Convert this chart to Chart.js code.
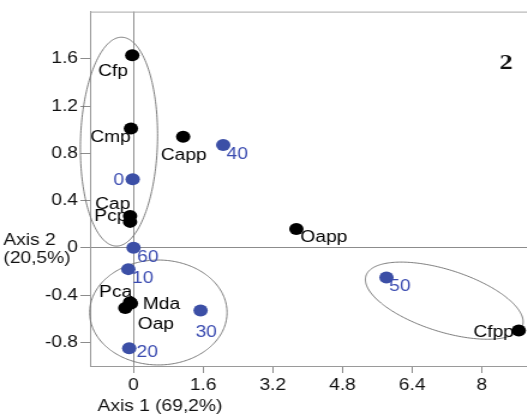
<!DOCTYPE html>
<html>
<head>
<meta charset="utf-8">
<script src="https://cdn.jsdelivr.net/npm/chart.js@4/dist/chart.umd.min.js"></script>
<style>
  html, body { margin: 0; padding: 0; background: #fff; overflow: hidden; width: 527px; height: 418px; }
  #wrap { width: 480px; height: 418px; transform: scaleX(1.2); transform-origin: 0 0; }
  canvas { display: block; }
</style>
</head>
<body>
<div id="wrap"><canvas id="chart" width="480" height="418"></canvas></div>
<script>
// Sample scores on the first two axes
const sampleNames = ['Cfp', 'Cmp', 'Capp', 'Cap', 'Pcp', 'Oapp', 'Pca', 'Mda', 'Oap', 'Cfpp'];
const sampleAxis1 = [-0.03, -0.06, 1.14, -0.08, -0.08, 3.74, -0.08, -0.06, -0.19, 8.85];
const sampleAxis2 = [1.63, 1.01, 0.94, 0.27, 0.22, 0.16, -0.46, -0.47, -0.51, -0.70];

// Time points (days)
const timeLabels = ['0', '10', '20', '30', '40', '50', '60'];
const timeAxis1 = [-0.02, -0.12, -0.10, 1.54, 2.06, 5.81, 0.00];
const timeAxis2 = [0.58, -0.18, -0.85, -0.53, 0.87, -0.25, 0.00];

// Tick values and their labels
const axis1Ticks = [0, 1.6, 3.2, 4.8, 6.4, 8];
const axis1TickLabels = ['0', '1.6', '3.2', '4.8', '6.4', '8'];
const axis2Ticks = [-0.8, -0.4, 0, 0.4, 0.8, 1.2, 1.6];
const axis2TickLabels = ['-0.8', '-0.4', '0', '0.4', '0.8', '1.2', '1.6'];

// Group ellipses: centre and two conjugate semi-axes, in axis units
const groupCentres = [[-0.335, 0.899], [0.570, -0.547], [7.138, -0.447]];
const groupAxisU = [[0.057, 0.884], [1.578, 0], [1.799, -0.210]];
const groupAxisV = [[0.885, 0], [0, 0.444], [-0.216, -0.250]];

const FONT = '"Liberation Sans", Arial, sans-serif';
const BLUE = '#3c4fa6';
const BLUE_TEXT = '#3a4bb0';

// where each point's label sits relative to the point (canvas px)
const labelOffsets = {
  Cfp: [-16, 16], Cmp: [-17, 9], Capp: [0.5, 19], Cap: [-14.5, -11], Pcp: [-16, -5],
  Oapp: [23, 8.5], Pca: [-12, -10], Mda: [25.5, 1.5], Oap: [25.5, 16], Cfpp: [-21, 2],
  '0': [-11.5, 1], '10': [12, 9], '20': [15, 4], '30': [4.7, 22.4], '40': [11.7, 9.7],
  '50': [11.2, 9], '60': [12, 10]
};

const samplePoints = sampleNames.map((n, i) => ({ x: sampleAxis1[i], y: sampleAxis2[i], name: n }));
const timePoints = timeLabels.map((n, i) => ({ x: timeAxis1[i], y: timeAxis2[i], name: n }));

const ellipsePlugin = {
  id: 'groupEllipses',
  beforeDatasetsDraw(chart) {
    const { ctx, scales: { x, y } } = chart;
    ctx.save();
    ctx.strokeStyle = '#6e6e6e';
    ctx.lineWidth = 0.9;
    groupCentres.forEach((c, k) => {
      const u = groupAxisU[k], v = groupAxisV[k];
      ctx.beginPath();
      for (let s = 0; s <= 240; s++) {
        const t = (s / 240) * Math.PI * 2;
        const dx = c[0] + u[0] * Math.cos(t) + v[0] * Math.sin(t);
        const dy = c[1] + u[1] * Math.cos(t) + v[1] * Math.sin(t);
        const px = x.getPixelForValue(dx), py = y.getPixelForValue(dy);
        if (s === 0) ctx.moveTo(px, py); else ctx.lineTo(px, py);
      }
      ctx.closePath();
      ctx.stroke();
    });
    ctx.restore();
  }
};

const textPlugin = {
  id: 'pointText',
  afterDatasetsDraw(chart) {
    const { ctx, chartArea } = chart;
    ctx.save();
    // top frame line
    ctx.strokeStyle = '#a8a8a8';
    ctx.lineWidth = 1;
    ctx.beginPath();
    ctx.moveTo(chartArea.left, chartArea.top + 0.5);
    ctx.lineTo(chartArea.right + 20, chartArea.top + 0.5);
    ctx.stroke();

    ctx.font = '16px ' + FONT;
    ctx.textAlign = 'center';
    ctx.textBaseline = 'middle';
    chart.data.datasets.forEach((ds, di) => {
      const meta = chart.getDatasetMeta(di);
      ctx.fillStyle = di === 0 ? '#000' : BLUE_TEXT;
      meta.data.forEach((el, i) => {
        const name = ds.data[i].name;
        const off = labelOffsets[name] || [0, 0];
        ctx.fillText(name, el.x + off[0], el.y + off[1]);
      });
    });

    // axis titles
    ctx.fillStyle = '#111';
    ctx.fillText('Axis 1 (69,2%)', 133.3, 406.5);
    ctx.textAlign = 'left';
    ctx.fillText('Axis 2', 2.8, 240.5);
    ctx.fillText('(20,5%)', 2.8, 258.5);

    // panel number
    ctx.font = 'bold 22px "Liberation Serif", "Times New Roman", serif';
    ctx.textAlign = 'center';
    ctx.fillStyle = '#111';
    ctx.fillText('2', 421.7, 63);
    ctx.restore();
  }
};

const zeroLine = (ctx) => (ctx.tick && ctx.tick.value === 0 ? '#8c8c8c' : 'rgba(0,0,0,0)');

new Chart(document.getElementById('chart'), {
  type: 'scatter',
  data: {
    datasets: [
      { label: 'samples', data: samplePoints, backgroundColor: '#000', borderColor: '#000',
        pointRadius: 6, pointHoverRadius: 6, borderWidth: 0 },
      { label: 'time', data: timePoints, backgroundColor: BLUE, borderColor: BLUE,
        pointRadius: 6, pointHoverRadius: 6, borderWidth: 0 }
    ]
  },
  options: {
    responsive: false,
    animation: false,
    events: [],
    layout: { padding: { top: 8, right: 3, left: 0, bottom: 0 } },
    plugins: { legend: { display: false }, tooltip: { enabled: false } },
    scales: {
      x: {
        type: 'linear', min: -1, max: 10,
        afterBuildTicks: (s) => { s.ticks = axis1Ticks.map(v => ({ value: v })); },
        afterFit: (s) => { s.height = 52; },
        grid: { color: zeroLine, tickColor: '#8c8c8c', tickLength: 7, lineWidth: 1 },
        border: { display: true, color: '#9a9a9a', width: 1 },
        ticks: { color: '#111', font: { family: FONT, size: 16 }, padding: 3,
          maxRotation: 0, autoSkip: false,
          callback: (v, i) => axis1TickLabels[i] }
      },
      y: {
        type: 'linear', min: -1, max: 2,
        afterBuildTicks: (s) => { s.ticks = axis2Ticks.map(v => ({ value: v })); },
        afterFit: (s) => { s.width = 75; },
        grid: { color: zeroLine, tickColor: '#8c8c8c', tickLength: 8, lineWidth: 1 },
        border: { display: true, color: '#9a9a9a', width: 1 },
        ticks: { color: '#111', font: { family: FONT, size: 16 }, padding: 2,
          autoSkip: false,
          callback: (v, i) => axis2TickLabels[i] }
      }
    }
  },
  plugins: [ellipsePlugin, textPlugin]
});
</script>
</body>
</html>
